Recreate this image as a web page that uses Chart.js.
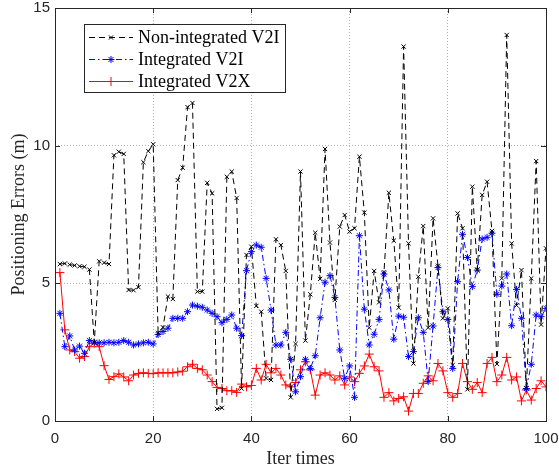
<!DOCTYPE html>
<html>
<head>
<meta charset="utf-8">
<script src="https://cdn.jsdelivr.net/npm/chart.js@4.4.1/dist/chart.umd.min.js"></script>
<style>
  html, body { margin: 0; padding: 0; background: #fff; }
  #wrap { width: 559px; height: 466px; }
</style>
</head>
<body>
<div id="wrap"><canvas id="errChart" width="559" height="466"></canvas></div>
<script>
// iteration index 1..100
const iters = Array.from({ length: 100 }, (_, i) => i + 1)

const nonIntegratedV2I = [
  5.7, 5.72, 5.68, 5.65, 5.62, 5.6, 5.5, 2.85, 5.8, 5.75,
  5.7, 9.65, 9.78, 9.7, 4.76, 4.75, 4.86, 9.4, 9.8, 10.05,
  3.2, 3.4, 4.52, 4.43, 8.75, 9.2, 11.4, 11.55, 4.7, 4.7,
  8.65, 8.27, 0.44, 0.48, 8.87, 9.06, 8.1, 1.18, 6.03, 6.33,
  4.18, 3.97, 1.55, 1.49, 6.6, 6.39, 5.45, 0.86, 2.8, 9.06,
  2.92, 4.6, 6.84, 5.16, 9.88, 6.48, 4.4, 7.06, 7.48, 6.88,
  7.0, 9.6, 7.57, 3.39, 5.45, 4.31, 5.4, 8.29, 6.55, 4.12,
  13.6, 6.45, 2.09, 5.24, 7.08, 3.39, 7.36, 5.64, 3.73, 4.09,
  2.03, 7.54, 7.0, 1.15, 8.51, 5.5, 8.21, 8.69, 6.9, 2.07,
  5.18, 14.02, 6.45, 4.2, 5.48, 1.2, 5.18, 9.44, 3.5, 6.27
]

const integratedV2I = [
  3.91, 2.7, 3.09, 2.58, 2.72, 2.46, 2.92, 2.86, 2.84, 2.84,
  2.86, 2.84, 2.86, 2.92, 2.86, 2.76, 2.8, 2.84, 2.86, 2.8,
  3.14, 3.25, 3.37, 3.73, 3.73, 3.73, 3.97, 4.21, 4.17, 4.13,
  4.03, 3.91, 3.79, 3.57, 3.69, 3.85, 3.37, 3.1, 5.46, 6.15,
  6.39, 6.31, 5.18, 4.03, 2.76, 2.76, 3.22, 2.24, 1.06, 1.61,
  2.24, 1.91, 2.37, 3.75, 5.04, 5.28, 4.49, 2.58, 1.55, 2.0,
  0.86, 6.73, 4.06, 2.76, 3.15, 3.69, 5.34, 4.76, 2.97, 3.81,
  3.77, 2.34, 2.52, 3.75, 3.22, 1.43, 3.45, 5.57, 3.97, 3.69,
  1.91, 5.06, 6.78, 5.94, 4.88, 5.48, 6.61, 6.67, 6.82, 4.6,
  4.9, 5.34, 3.46, 4.78, 3.73, 1.18, 2.06, 3.85, 3.79, 4.09
]

const integratedV2X = [
  5.39, 3.31, 2.58, 2.52, 2.28, 2.34, 2.7, 2.82, 2.7, 2.01,
  1.51, 1.61, 1.71, 1.6, 1.46, 1.67, 1.73, 1.75, 1.73, 1.72,
  1.75, 1.75, 1.75, 1.75, 1.78, 1.81, 1.97, 2.06, 1.91, 1.86,
  1.67, 1.43, 1.22, 1.18, 1.1, 1.1, 1.04, 1.34, 1.24, 1.29,
  1.91, 1.49, 2.06, 1.75, 1.91, 1.67, 1.31, 1.24, 1.4, 1.86,
  2.15, 1.86, 0.94, 1.67, 1.75, 1.67, 1.49, 1.64, 1.31, 1.6,
  1.43, 1.73, 2.0, 2.43, 1.97, 1.82, 0.86, 1.03, 0.73, 0.82,
  0.88, 0.36, 1.0, 1.0, 1.37, 1.64, 1.46, 2.09, 1.82, 1.03,
  0.86, 1.0, 2.09, 1.43, 1.15, 1.4, 1.03, 2.09, 2.31, 1.43,
  1.67, 2.31, 1.49, 1.6, 0.73, 1.13, 0.76, 1.18, 1.46, 1.24
]

const xTicks = [0, 20, 40, 60, 80, 100]
const yTicks = [0, 5, 10, 15]

const seriesNames = ["Non-integrated V2I", "Integrated V2I", "Integrated V2X"]

const SERIF = "'Liberation Serif', 'Times New Roman', serif"
const SANS = "'Liberation Sans', Arial, Helvetica, sans-serif"

const seriesStyle = [
  { color: "#000000", dash: [6, 4], point: "crossRot", radius: 3 },
  { color: "#0000ff", dash: [6, 3, 1.5, 3], point: "star", radius: 3.5 },
  { color: "#ff0000", dash: [], point: "cross", radius: 4.5 },
]

// box, inward ticks and legend, drawn the MATLAB way
const matlabFrame = {
  id: "matlabFrame",
  afterDraw(chart) {
    const ctx = chart.ctx
    const a = chart.chartArea
    const xs = chart.scales.x
    const ys = chart.scales.y
    ctx.save()
    ctx.strokeStyle = "#262626"
    ctx.lineWidth = 1
    ctx.setLineDash([])
    ctx.strokeRect(Math.round(a.left) + 0.5, Math.round(a.top) + 0.5,
      Math.round(a.right - a.left), Math.round(a.bottom - a.top))
    ctx.beginPath()
    xTicks.forEach((t) => {
      const px = Math.round(xs.getPixelForValue(t)) + 0.5
      ctx.moveTo(px, a.bottom); ctx.lineTo(px, a.bottom - 5)
      ctx.moveTo(px, a.top); ctx.lineTo(px, a.top + 5)
    })
    yTicks.forEach((t) => {
      const py = Math.round(ys.getPixelForValue(t)) + 0.5
      ctx.moveTo(a.left, py); ctx.lineTo(a.left + 5, py)
      ctx.moveTo(a.right, py); ctx.lineTo(a.right - 5, py)
    })
    ctx.stroke()

    // legend
    const lx = 84.5, ly = 24.5, lw = 201, lh = 68
    ctx.fillStyle = "#fff"
    ctx.fillRect(lx, ly, lw, lh)
    ctx.strokeStyle = "#262626"
    ctx.strokeRect(lx, ly, lw, lh)
    const rows = [37, 59, 81]
    chart.data.datasets.forEach((ds, i) => {
      const st = seriesStyle[i]
      const y = rows[i] + 0.5
      ctx.strokeStyle = st.color
      ctx.lineWidth = 1
      ctx.setLineDash(st.dash)
      ctx.beginPath()
      ctx.moveTo(89, y); ctx.lineTo(133, y)
      ctx.stroke()
      ctx.setLineDash([])
      Chart.helpers.drawPoint(ctx, { pointStyle: st.point, radius: st.radius, borderWidth: 1 }, 111, y)
      ctx.fillStyle = "#000"
      ctx.font = "18px " + SERIF
      ctx.textBaseline = "middle"
      ctx.textAlign = "left"
      ctx.fillText(seriesNames[i], 138, rows[i] + 1)
    })
    ctx.restore()
  },
}

const datasets = [nonIntegratedV2I, integratedV2I, integratedV2X].map((vals, i) => ({
  label: seriesNames[i],
  data: vals,
  borderColor: seriesStyle[i].color,
  backgroundColor: seriesStyle[i].color,
  borderWidth: 1,
  borderDash: seriesStyle[i].dash,
  pointStyle: seriesStyle[i].point,
  pointRadius: seriesStyle[i].radius,
  pointBorderWidth: 1,
  pointBorderColor: seriesStyle[i].color,
  tension: 0,
  fill: false,
}))

new Chart(document.getElementById("errChart"), {
  type: "line",
  data: { labels: iters, datasets: datasets },
  options: {
    responsive: false,
    animation: false,
    layout: { padding: { top: 8, right: 13, left: 0, bottom: 0 } },
    plugins: { legend: { display: false }, tooltip: { enabled: false } },
    scales: {
      x: {
        type: "linear",
        min: 0,
        max: 100,
        afterFit: (s) => { s.height = 45; s.paddingLeft = 0; s.paddingRight = 0 },
        afterBuildTicks: (s) => { s.ticks = xTicks.map((v) => ({ value: v })) },
        ticks: { font: { family: SANS, size: 15 }, color: "#262626", padding: 9, maxRotation: 0 },
        grid: { color: "#b0b0b0", drawTicks: false, lineWidth: 1 },
        border: { display: false, dash: [1, 2] },
        title: { display: true, text: "Iter times", font: { family: SERIF, size: 18, lineHeight: 1 }, color: "#262626", padding: { top: 0, bottom: -2 } },
      },
      y: {
        min: 0,
        max: 15,
        afterFit: (s) => { s.width = 55; s.paddingTop = 0; s.paddingBottom = 0 },
        afterBuildTicks: (s) => { s.ticks = yTicks.map((v) => ({ value: v })) },
        ticks: { font: { family: SANS, size: 15 }, color: "#262626", padding: 5 },
        grid: { color: "#b0b0b0", drawTicks: false, lineWidth: 1 },
        border: { display: false, dash: [1, 2] },
        title: { display: true, text: "Positioning Errors (m)", font: { family: SERIF, size: 18 }, color: "#262626", padding: { top: 8, bottom: 0 } },
      },
    },
  },
  plugins: [matlabFrame],
})
</script>
</body>
</html>
